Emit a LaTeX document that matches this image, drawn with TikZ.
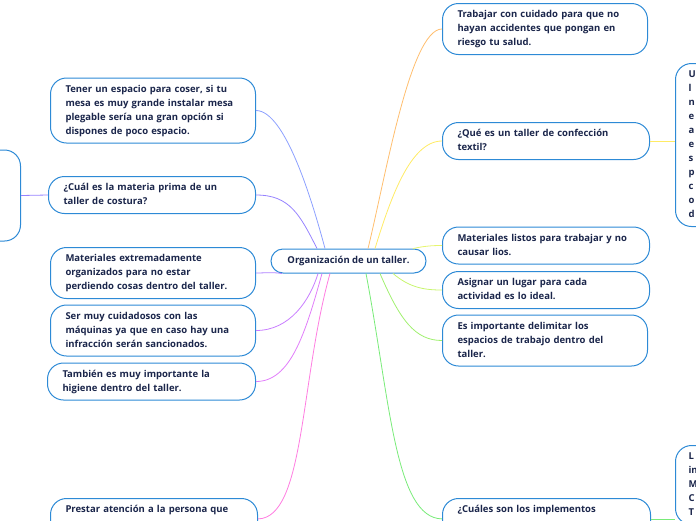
\documentclass[tikz,border=0pt]{standalone}
\usepackage{fontspec}
\setmainfont{Open Sans}

\definecolor{boxblue}{RGB}{45,138,214}
\definecolor{inknavy}{RGB}{27,38,75}
\definecolor{lineA}{RGB}{140,160,255}
\definecolor{lineB}{RGB}{150,130,255}
\definecolor{lineC}{RGB}{175,130,255}
\definecolor{lineD}{RGB}{200,125,255}
\definecolor{lineE}{RGB}{225,125,250}
\definecolor{lineF}{RGB}{255,125,225}
\definecolor{lineG}{RGB}{255,190,110}
\definecolor{lineH}{RGB}{255,235,100}
\definecolor{lineI}{RGB}{230,245,110}
\definecolor{lineJ}{RGB}{200,245,110}
\definecolor{lineK}{RGB}{160,240,110}
\definecolor{lineL}{RGB}{120,235,120}

\tikzset{
    topic/.style={draw=boxblue, line width=1pt, fill=white, text=inknavy,
        font=\bfseries\fontsize{9.5}{14}\selectfont, rounded corners=16pt,
        align=left, text width=175pt, inner xsep=15pt, inner ysep=4.5pt,
        execute at begin node=\strut, execute at end node=\strut},
    hub/.style={draw=boxblue, line width=1pt, fill=white, text=inknavy,
        font=\bfseries\fontsize{9.5}{14}\selectfont, rounded corners=12pt,
        minimum width=155pt, minimum height=24pt, inner sep=0pt},
    link/.style={draw=#1, line width=0.8pt}
}

\begin{document}
\begin{tikzpicture}[x=1pt, y=-1pt]
    \useasboundingbox (0,0) rectangle (696,520);
    \clip (0,0) rectangle (696,520);

    % centre
    \node[hub] (ctr) at (348.5,261) {Organización de un taller.};

    % left side
    \node[topic, anchor=west] (tener) at (50,110.5) {Tener un espacio para coser, si tu\\mesa es muy grande instalar mesa\\plegable sería una gran opción si\\dispones de poco espacio.};
    \node[topic, anchor=west, text width=177pt] (materia) at (48,195) {¿Cuál es la materia prima de un\\taller de costura?};
    \node[topic, anchor=west] (extrem) at (50,273) {Materiales extremadamente\\organizados para no estar\\perdiendo cosas dentro del taller.};
    \node[topic, anchor=west] (cuidado) at (50,330.5) {Ser muy cuidadosos con las\\máquinas ya que en caso hay una\\infracción serán sancionados.};
    \node[topic, anchor=west, text width=178pt] (higiene) at (47,381.5) {También es muy importante la\\higiene dentro del taller.};
    \node[topic, anchor=north west, text width=177pt, text depth=22pt] (atencion) at (50,498) {Prestar atención a la persona que};
    \node[topic, anchor=east, minimum height=91pt, text width=100pt] (prima) at (21,195.5) {};

    % right side
    \node[topic, anchor=west] (trabajar) at (442,29) {Trabajar con cuidado para que no\\hayan accidentes que pongan en\\riesgo tu salud.};
    \node[topic, anchor=west, text width=177pt] (quees) at (442,141) {¿Qué es un taller de confección\\textil?};
    \node[topic, anchor=west, text width=177pt] (listos) at (442,245.5) {Materiales listos para trabajar y no\\causar lios.};
    \node[topic, anchor=west, text width=177pt] (lugar) at (442,290) {Asignar un lugar para cada\\actividad es lo ideal.};
    \node[topic, anchor=west] (delimitar) at (442,340.5) {Es importante delimitar los\\espacios de trabajo dentro del\\taller.};
    \node[topic, anchor=north west, text width=178pt, text depth=22pt] (implem) at (442,498) {¿Cuáles son los implementos};
    \node[topic, anchor=north west, text width=150pt, inner xsep=13pt] (definicion) at (675,63) {U\\l\\n\\e\\a\\e\\s\\p\\c\\o\\d};
    \node[topic, anchor=north west, text width=150pt, inner xsep=13pt] (lista) at (675,445) {L\\in\\M\\C\\T};

    % branches
    \draw[link=lineA] ([xshift=-23.5pt]ctr.north) .. controls (312,200) and (285,110.5) .. (tener.east);
    \draw[link=lineB] ([xshift=-31.5pt]ctr.north) .. controls (300,215) and (290,195) .. (materia.east);
    \draw[link=lineB] (prima.east) -- (materia.west);
    \draw[link=lineC] ([xshift=-66.5pt]ctr.south) .. controls (272,272) and (265,273) .. (extrem.east);
    \draw[link=lineD] ([xshift=-30.5pt]ctr.south) .. controls (310,300) and (290,330.5) .. (cuidado.east);
    \draw[link=lineE] ([xshift=-26.5pt]ctr.south) .. controls (305,335) and (290,381.5) .. (higiene.east);
    \draw[link=lineF] ([xshift=-18.5pt]ctr.south) .. controls (300,380) and (305,518) .. (atencion.east);

    \draw[link=lineG] ([xshift=19.5pt]ctr.north) .. controls (385,180) and (410,29) .. (trabajar.west);
    \draw[link=lineH] ([xshift=26.5pt]ctr.north) .. controls (390,200) and (410,141) .. (quees.west);
    \draw[link=lineH] (quees.east) -- (quees.east -| definicion.west);
    \draw[link=lineI] ([xshift=64.5pt]ctr.north) .. controls (425,246) and (432,245.5) .. (listos.west);
    \draw[link=lineJ] ([xshift=44.5pt]ctr.south) .. controls (410,288) and (425,290) .. (lugar.west);
    \draw[link=lineK] ([xshift=31.5pt]ctr.south) .. controls (400,320) and (415,340.5) .. (delimitar.west);
    \draw[link=lineL] ([xshift=17.5pt]ctr.south) .. controls (390,400) and (395,518) .. (implem.west);
    \draw[link=lineL] (implem.east) -- (implem.east -| lista.west);
\end{tikzpicture}
\end{document}
